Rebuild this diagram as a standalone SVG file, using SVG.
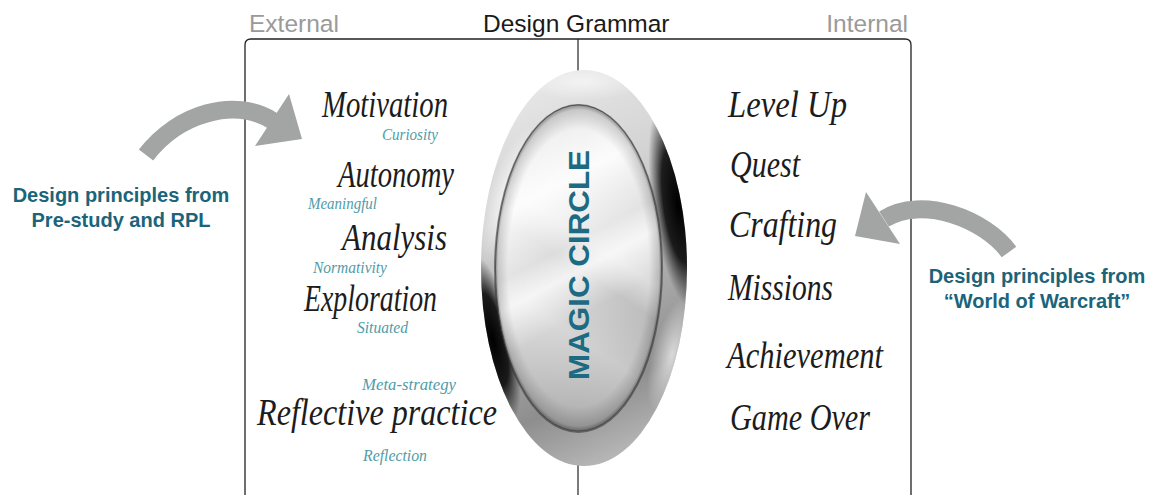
<svg xmlns="http://www.w3.org/2000/svg" width="1150" height="495" viewBox="0 0 1150 495">
  <style>
    .head { font-family: "Liberation Sans", Arial, sans-serif; font-size: 24.5px; }
    .gray { fill: #9a9a9a; }
    .dark { fill: #1a1a1a; }
    .blue { font-family: "Liberation Sans", Arial, sans-serif; font-weight: bold; font-size: 20px; fill: #1b6479; text-anchor: middle; }
    .script { font-family: "Liberation Serif", "Times New Roman", serif; font-style: italic; font-size: 37px; fill: #1c1c1c; }
    .sub { font-family: "Liberation Serif", "Times New Roman", serif; font-style: italic; font-size: 17px; fill: #4f9ca8; }
    .arrow { fill: none; stroke: #a3a5a4; stroke-width: 18; stroke-linecap: butt; }
    .head-tri { fill: #a3a5a4; }
    .frame { fill: none; stroke: #222; stroke-width: 1.3; }
    .mc { font-family: "Liberation Sans", Arial, sans-serif; font-weight: bold; font-size: 30px; fill: #1d6b82; text-anchor: middle; }
  </style>
  <defs>
    <clipPath id="ringClip">
      <ellipse cx="584" cy="268" rx="103" ry="198"/>
    </clipPath>
    <linearGradient id="ring" gradientUnits="userSpaceOnUse" x1="500" y1="90" x2="660" y2="450">
      <stop offset="0" stop-color="#e8e8e8"/>
      <stop offset="0.3" stop-color="#d2d2d2"/>
      <stop offset="0.55" stop-color="#b0b0b0"/>
      <stop offset="0.8" stop-color="#8e8e8e"/>
      <stop offset="1" stop-color="#bdbdbd"/>
    </linearGradient>
    <radialGradient id="blob" cx="0.5" cy="0.5" r="0.5">
      <stop offset="0" stop-color="#000" stop-opacity="1"/>
      <stop offset="0.55" stop-color="#0a0a0a" stop-opacity="0.9"/>
      <stop offset="1" stop-color="#222" stop-opacity="0"/>
    </radialGradient>
    <radialGradient id="hilite" cx="0.5" cy="0.5" r="0.5">
      <stop offset="0" stop-color="#fff" stop-opacity="0.95"/>
      <stop offset="1" stop-color="#fff" stop-opacity="0"/>
    </radialGradient>
    <linearGradient id="disc" gradientUnits="userSpaceOnUse" x1="500" y1="120" x2="660" y2="420">
      <stop offset="0" stop-color="#e2e2e2"/>
      <stop offset="0.25" stop-color="#fbfbfb"/>
      <stop offset="0.42" stop-color="#dcdcdc"/>
      <stop offset="0.5" stop-color="#f2f2f2"/>
      <stop offset="0.62" stop-color="#c6c6c6"/>
      <stop offset="0.8" stop-color="#b3b3b3"/>
      <stop offset="1" stop-color="#9f9f9f"/>
    </linearGradient>
    <linearGradient id="disc2" gradientUnits="userSpaceOnUse" x1="660" y1="150" x2="500" y2="390">
      <stop offset="0" stop-color="#fff" stop-opacity="0"/>
      <stop offset="0.4" stop-color="#fff" stop-opacity="0.4"/>
      <stop offset="0.5" stop-color="#fff" stop-opacity="0"/>
      <stop offset="0.7" stop-color="#fff" stop-opacity="0.3"/>
      <stop offset="1" stop-color="#fff" stop-opacity="0"/>
    </linearGradient>
    <radialGradient id="shade" cx="0.5" cy="0.5" r="0.5">
      <stop offset="0.85" stop-color="#000" stop-opacity="0"/>
      <stop offset="0.97" stop-color="#000" stop-opacity="0.15"/>
      <stop offset="1" stop-color="#000" stop-opacity="0.4"/>
    </radialGradient>
  </defs>

  <rect width="1150" height="495" fill="#ffffff"/>

  <!-- header -->
  <g id="header">
    <text class="head gray" x="249" y="32">External</text>
    <text class="head dark" x="483" y="32">Design Grammar</text>
    <text class="head gray" x="908" y="32" text-anchor="end">Internal</text>
  </g>

  <!-- frame -->
  <g id="frame">
    <path class="frame" d="M245,495 V45 Q245,39 251,39 H905 Q911,39 911,45 V495"/>
    <line x1="578" y1="39" x2="578" y2="495" stroke="#222" stroke-width="1.2"/>
  </g>

  <!-- magic circle -->
  <g id="magic-circle">
    <ellipse cx="584" cy="268" rx="103" ry="198" fill="url(#ring)"/>
    <g clip-path="url(#ringClip)">
      <ellipse cx="678" cy="205" rx="26" ry="105" fill="url(#blob)" transform="rotate(-8 678 205)"/>
      <ellipse cx="493" cy="340" rx="22" ry="85" fill="url(#blob)" transform="rotate(-12 493 340)"/>
      <ellipse cx="512" cy="195" rx="24" ry="75" fill="url(#hilite)" transform="rotate(20 512 195)"/>
      <ellipse cx="672" cy="355" rx="20" ry="60" fill="url(#hilite)" transform="rotate(15 672 355)" opacity="0.7"/>
      <ellipse cx="584" cy="82" rx="60" ry="18" fill="url(#hilite)" opacity="0.6"/>
    </g>
    <ellipse cx="578.5" cy="268.5" rx="84.5" ry="164.5" fill="#2e2e2e" opacity="0.55"/>
    <ellipse cx="578.5" cy="268" rx="83" ry="163" fill="url(#disc)"/>
    <ellipse cx="578.5" cy="268" rx="83" ry="163" fill="url(#disc2)"/>
    <ellipse cx="578.5" cy="268" rx="83" ry="163" fill="url(#shade)" stroke="#444" stroke-width="0.8"/>
    <text class="mc" transform="translate(578,265) rotate(-90)" x="0" y="10.5" textLength="230" lengthAdjust="spacingAndGlyphs">MAGIC CIRCLE</text>
  </g>

  <!-- external (left) words -->
  <g id="motivation">
    <text class="script" x="322" y="117" textLength="126" lengthAdjust="spacingAndGlyphs">Motivation</text>
    <text class="sub" x="382" y="140" textLength="56" lengthAdjust="spacingAndGlyphs">Curiosity</text>
  </g>
  <g id="autonomy">
    <text class="script" x="338" y="187" textLength="116" lengthAdjust="spacingAndGlyphs">Autonomy</text>
    <text class="sub" x="308" y="209" textLength="69" lengthAdjust="spacingAndGlyphs">Meaningful</text>
  </g>
  <g id="analysis">
    <text class="script" x="342" y="250" textLength="105" lengthAdjust="spacingAndGlyphs">Analysis</text>
    <text class="sub" x="313" y="273" textLength="74" lengthAdjust="spacingAndGlyphs">Normativity</text>
  </g>
  <g id="exploration">
    <text class="script" x="304" y="311" textLength="133" lengthAdjust="spacingAndGlyphs">Exploration</text>
    <text class="sub" x="357" y="333" textLength="51" lengthAdjust="spacingAndGlyphs">Situated</text>
  </g>
  <g id="reflective-practice">
    <text class="sub" x="362" y="390" textLength="94" lengthAdjust="spacingAndGlyphs">Meta-strategy</text>
    <text class="script" x="257" y="425" textLength="240" lengthAdjust="spacingAndGlyphs">Reflective practice</text>
    <text class="sub" x="363" y="461" textLength="64" lengthAdjust="spacingAndGlyphs">Reflection</text>
  </g>

  <!-- internal (right) words -->
  <g id="level-up"><text class="script" x="728" y="117" textLength="119" lengthAdjust="spacingAndGlyphs">Level Up</text></g>
  <g id="quest"><text class="script" x="730" y="177" textLength="70" lengthAdjust="spacingAndGlyphs">Quest</text></g>
  <g id="crafting"><text class="script" x="729" y="237" textLength="108" lengthAdjust="spacingAndGlyphs">Crafting</text></g>
  <g id="missions"><text class="script" x="728" y="300" textLength="105" lengthAdjust="spacingAndGlyphs">Missions</text></g>
  <g id="achievement"><text class="script" x="727" y="368" textLength="156" lengthAdjust="spacingAndGlyphs">Achievement</text></g>
  <g id="game-over"><text class="script" x="730" y="430" textLength="140" lengthAdjust="spacingAndGlyphs">Game Over</text></g>

  <!-- source labels -->
  <g id="source-left">
    <text class="blue" x="121" y="202">Design principles from</text>
    <text class="blue" x="121" y="227">Pre-study and RPL</text>
  </g>
  <g id="source-right">
    <text class="blue" x="1037" y="283">Design principles from</text>
    <text class="blue" x="1037" y="308">“World of Warcraft”</text>
  </g>

  <!-- connectors -->
  <g id="connectors">
    <path class="arrow" d="M146,155 C178,113 235,97 273,121"/>
    <polygon class="head-tri" points="289,94 302,139 255,146"/>
    <path class="arrow" d="M1009,252 C985,219 922,195 884,219"/>
    <polygon class="head-tri" points="866,192 855,236 900,244"/>
  </g>
</svg>
